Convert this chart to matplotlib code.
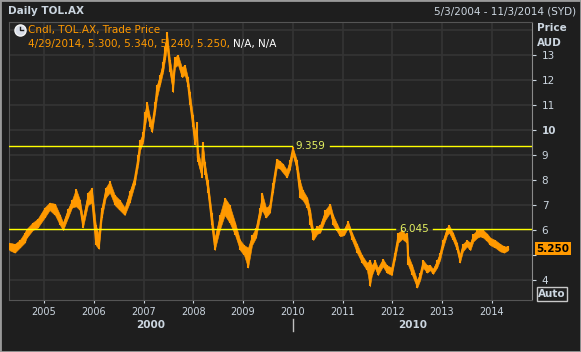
import matplotlib
matplotlib.use('Agg')
import matplotlib.pyplot as plt
from matplotlib.lines import Line2D
from matplotlib.patches import Rectangle

# daily TOL.AX (decimal year, close, low, high)
dates = [2004.30, 2004.41, 2004.51, 2004.61, 2004.65, 2004.77, 2004.87, 2005.01, 2005.11, 2005.22,
         2005.32, 2005.38, 2005.48, 2005.56, 2005.64, 2005.72, 2005.78, 2005.88, 2005.96, 2006.04,
         2006.10, 2006.16, 2006.24, 2006.32, 2006.42, 2006.52, 2006.62, 2006.72, 2006.82, 2006.89,
         2006.93, 2006.99, 2007.03, 2007.07, 2007.13, 2007.17, 2007.23, 2007.27, 2007.33, 2007.39,
         2007.43, 2007.47, 2007.53, 2007.59, 2007.63, 2007.69, 2007.77, 2007.83, 2007.89, 2007.93,
         2007.99, 2008.03, 2008.07, 2008.09, 2008.17, 2008.19, 2008.23, 2008.29, 2008.37, 2008.43,
         2008.53, 2008.63, 2008.73, 2008.84, 2008.94, 2009.02, 2009.10, 2009.18, 2009.26, 2009.34,
         2009.38, 2009.46, 2009.54, 2009.60, 2009.68, 2009.74, 2009.80, 2009.88, 2009.94, 2010.00,
         2010.08, 2010.14, 2010.20, 2010.29, 2010.35, 2010.41, 2010.49, 2010.55, 2010.65, 2010.75,
         2010.81, 2010.89, 2010.95, 2011.03, 2011.11, 2011.19, 2011.29, 2011.39, 2011.49, 2011.55,
         2011.59, 2011.65, 2011.71, 2011.81, 2011.89, 2011.99, 2012.05, 2012.12, 2012.20, 2012.26,
         2012.30, 2012.32, 2012.40, 2012.50, 2012.56, 2012.62, 2012.70, 2012.76, 2012.82, 2012.90,
         2012.96, 2013.02, 2013.10, 2013.14, 2013.22, 2013.30, 2013.36, 2013.42, 2013.50, 2013.57,
         2013.63, 2013.71, 2013.77, 2013.83, 2013.91, 2013.97, 2014.07, 2014.17, 2014.25, 2014.33]
close = [5.35, 5.30, 5.45, 5.70, 5.95, 6.15, 6.30, 6.75, 6.95, 6.85,
         6.40, 6.15, 6.70, 7.05, 7.20, 7.00, 6.25, 7.20, 7.40, 5.60,
         5.50, 6.70, 7.50, 7.70, 7.20, 7.00, 6.70, 7.35, 8.00, 8.80,
         9.45, 9.70, 10.50, 10.90, 10.30, 10.10, 10.90, 11.60, 12.00, 12.50,
         13.10, 13.60, 12.50, 11.80, 12.70, 12.80, 12.30, 12.40, 11.90, 11.20,
         10.30, 9.60, 10.10, 8.90, 8.30, 9.30, 8.50, 7.80, 6.40, 5.40,
         6.30, 6.90, 6.50, 6.00, 5.40, 5.20, 5.00, 5.60, 5.90, 6.70,
         7.10, 6.60, 6.85, 7.70, 8.70, 8.60, 8.50, 8.25, 8.60, 9.20,
         8.60, 7.60, 7.40, 7.10, 6.50, 5.80, 6.00, 6.05, 6.60, 6.90,
         6.40, 6.10, 5.90, 5.90, 6.25, 5.80, 5.30, 4.85, 4.55, 4.50,
         4.30, 4.65, 4.35, 4.70, 4.45, 4.35, 4.95, 5.70, 5.80, 5.70,
         5.70, 4.80, 4.40, 3.85, 4.15, 4.65, 4.45, 4.50, 4.35, 4.65,
         4.95, 5.45, 5.95, 6.05, 5.75, 5.35, 4.85, 5.30, 5.50, 5.35,
         5.70, 5.85, 5.90, 5.85, 5.70, 5.55, 5.45, 5.30, 5.20, 5.25]
low = [5.20, 5.10, 5.30, 5.50, 5.70, 6.00, 6.10, 6.50, 6.80, 6.60,
       6.20, 6.00, 6.50, 6.90, 6.95, 6.80, 6.10, 7.00, 7.10, 5.40,
       5.25, 6.50, 7.30, 7.50, 7.00, 6.80, 6.60, 7.10, 7.80, 8.60,
       9.20, 9.50, 10.20, 10.60, 10.10, 9.90, 10.70, 11.30, 11.80, 12.30,
       12.80, 13.30, 12.30, 11.50, 12.50, 12.60, 12.10, 12.20, 11.70, 11.00,
       10.10, 9.40, 9.80, 8.70, 8.10, 8.80, 8.20, 7.50, 6.20, 5.20,
       6.00, 6.60, 6.30, 5.80, 5.20, 5.00, 4.50, 5.40, 5.70, 6.50,
       6.80, 6.50, 6.70, 7.50, 8.50, 8.45, 8.30, 8.10, 8.40, 9.00,
       8.40, 7.30, 7.20, 6.90, 6.20, 5.60, 5.85, 5.90, 6.40, 6.70,
       6.20, 5.95, 5.75, 5.80, 6.10, 5.60, 5.10, 4.70, 4.40, 3.75,
       4.20, 4.50, 4.20, 4.55, 4.30, 4.20, 4.80, 5.50, 5.65, 5.55,
       5.50, 4.60, 4.20, 3.70, 4.00, 4.50, 4.30, 4.40, 4.25, 4.50,
       4.80, 5.30, 5.80, 5.90, 5.60, 5.20, 4.70, 5.15, 5.35, 5.20,
       5.55, 5.70, 5.75, 5.70, 5.55, 5.40, 5.30, 5.15, 5.10, 5.20]
high = [5.50, 5.45, 5.60, 5.90, 6.05, 6.30, 6.45, 6.90, 7.10, 7.05,
        6.60, 6.30, 6.85, 7.20, 7.65, 7.20, 6.50, 7.50, 7.70, 6.20,
        5.80, 6.90, 7.70, 7.95, 7.40, 7.20, 6.90, 7.55, 8.10, 9.00,
        9.60, 9.90, 10.70, 11.10, 10.50, 10.30, 11.10, 11.80, 12.20, 12.70,
        13.30, 13.90, 12.80, 12.10, 12.90, 13.00, 12.50, 12.60, 12.10, 11.50,
        10.60, 9.90, 10.30, 9.20, 8.50, 9.50, 8.70, 8.00, 6.70, 5.70,
        6.60, 7.30, 7.00, 6.30, 5.60, 5.40, 5.30, 5.80, 6.10, 6.90,
        7.50, 6.90, 7.00, 7.90, 8.85, 8.75, 8.65, 8.40, 8.80, 9.30,
        8.80, 8.00, 7.60, 7.30, 6.80, 6.00, 6.15, 6.20, 6.80, 7.05,
        6.60, 6.25, 6.00, 6.05, 6.35, 5.90, 5.45, 5.00, 4.70, 4.80,
        4.60, 4.80, 4.50, 4.85, 4.60, 4.50, 5.10, 5.90, 6.00, 5.85,
        5.90, 5.00, 4.60, 4.00, 4.30, 4.80, 4.60, 4.60, 4.45, 4.80,
        5.10, 5.60, 6.10, 6.20, 5.90, 5.50, 5.00, 5.45, 5.60, 5.50,
        5.85, 6.00, 6.05, 6.00, 5.85, 5.70, 5.60, 5.45, 5.35, 5.35]

years = list(range(2005, 2015))
price_ticks = list(range(4, 14))
grid_prices = list(range(4, 15))
levels = [9.359, 6.045]
last_price = 5.250

bg = '#1e1e1e'
plot_bg = '#232323'
grid_c = '#343434'
orange = '#ff9900'
txt = '#ccd6e0'

W, H = 581, 352
fig = plt.figure(figsize=(W / 100, H / 100), dpi=100, facecolor=bg)
ax = fig.add_axes([9.3 / W, 1 - 300 / H, (532 - 9.3) / W, (300 - 21.7) / H])
ax.set_facecolor(plot_bg)
ax.set_xlim(2004.30, 2014.81)
ax.set_ylim(3.21, 14.32)

for p in grid_prices:
    ax.axhline(p, color=grid_c, lw=1.2, zorder=0)
for yr in years:
    ax.axvline(yr, color=grid_c, lw=1.2, zorder=0)

# price band, candle wicks and close line
ax.fill_between(dates, low, high, color=orange, lw=0.4, zorder=3)
ax.vlines(dates, low, high, color=orange, lw=1.5, zorder=3)
ax.plot(dates, close, color=orange, lw=1.4, zorder=3)

# horizontal level lines with a gap for the label
gaps = {9.359: (0.540, 0.613), 6.045: (0.738, 0.811)}
for lv in levels:
    a, b = gaps[lv]
    ax.axhline(lv, xmin=0, xmax=a, color='#ffff00', lw=1, zorder=4)
    ax.axhline(lv, xmin=b, xmax=1, color='#ffff00', lw=1, zorder=4)
    ax.text((a + b) / 2, lv, f'{lv:.3f}', transform=ax.get_yaxis_transform(),
            ha='center', va='center', color='#e4f060', fontsize=7.5, zorder=5)

# axes styling
for s in ['left', 'top', 'bottom']:
    ax.spines[s].set_color('#555555')
ax.spines['right'].set_color('#8a8a8a')
ax.yaxis.tick_right()
ax.set_yticks(price_ticks)
# the 5 label sits under the last-price tag
ax.set_yticklabels(['' if p == 5 else str(p) for p in price_ticks])
ax.set_xticks(years)
ax.set_xticklabels([str(y) for y in years])
ax.tick_params(axis='y', colors=txt, labelsize=7.5, length=3, pad=4)
ax.tick_params(axis='x', colors=txt, labelsize=7, length=2, pad=3)
for lab in ax.get_yticklabels():
    if lab.get_text() == '10':
        lab.set_fontweight('bold')

# last price tag
ax.text(1.008, last_price, f'{last_price:.3f}', transform=ax.get_yaxis_transform(),
        ha='left', va='center', color='black', fontsize=7.5, fontweight='bold',
        bbox=dict(boxstyle='square,pad=0.15', fc=orange, ec='none'), clip_on=False, zorder=6)

# legend (under the data)
ax.plot([20 / W], [1 - 30 / H], transform=fig.transFigure, marker='o', ms=8,
        mfc='#d8dde8', mec='#f4f4f4', clip_on=False, zorder=1)
ax.plot([20 / W, 20 / W, 23 / W], [1 - 27 / H, 1 - 30 / H, 1 - 30 / H],
        transform=fig.transFigure, color='#202020', lw=1, clip_on=False, zorder=1)
ax.text(28 / W, 1 - 30 / H, 'Cndl, TOL.AX, Trade Price', transform=fig.transFigure,
        color=orange, fontsize=7.5, va='center', zorder=1)
t2 = ax.text(28 / W, 1 - 44 / H, '4/29/2014, 5.300, 5.340, 5.240, 5.250, ',
             transform=fig.transFigure, color=orange, fontsize=7.5, va='center', zorder=1)
ax.annotate('N/A, N/A', xy=(1, 0.5), xycoords=t2, va='center', ha='left',
            color='white', fontsize=7.5, zorder=1)

# header texts
fig.text(8 / W, 1 - 11 / H, 'Daily TOL.AX', color=txt, fontsize=7.5, fontweight='bold', va='center')
fig.text(576 / W, 1 - 11 / H, '5/3/2004 - 11/3/2014 (SYD)', color=txt, fontsize=7.5,
         ha='right', va='center')
fig.text(537 / W, 1 - 28 / H, 'Price', color=txt, fontsize=7.5, fontweight='bold', va='center')
fig.text(537 / W, 1 - 43 / H, 'AUD', color=txt, fontsize=7.5, fontweight='bold', va='center')
fig.text(552 / W, 1 - 294 / H, 'Auto', color=txt, fontsize=7.5, fontweight='bold',
         ha='center', va='center',
         bbox=dict(boxstyle='square,pad=0.15', fc='none', ec='#c8c8c8', lw=1))

# decade labels
fig.text(151 / W, 1 - 325 / H, '2000', color=txt, fontsize=7.5, fontweight='bold', ha='center', va='center')
fig.text(413 / W, 1 - 325 / H, '2010', color=txt, fontsize=7.5, fontweight='bold', ha='center', va='center')
fig.add_artist(Line2D([293 / W, 293 / W], [1 - 319 / H, 1 - 331 / H], color='#c0c0c0', lw=1))

# window border
fig.add_artist(Rectangle((0, 0), 1, 1, transform=fig.transFigure, fill=False, ec='#9a9a9a', lw=2))

fig.savefig('out.png', dpi=100, facecolor=bg)
